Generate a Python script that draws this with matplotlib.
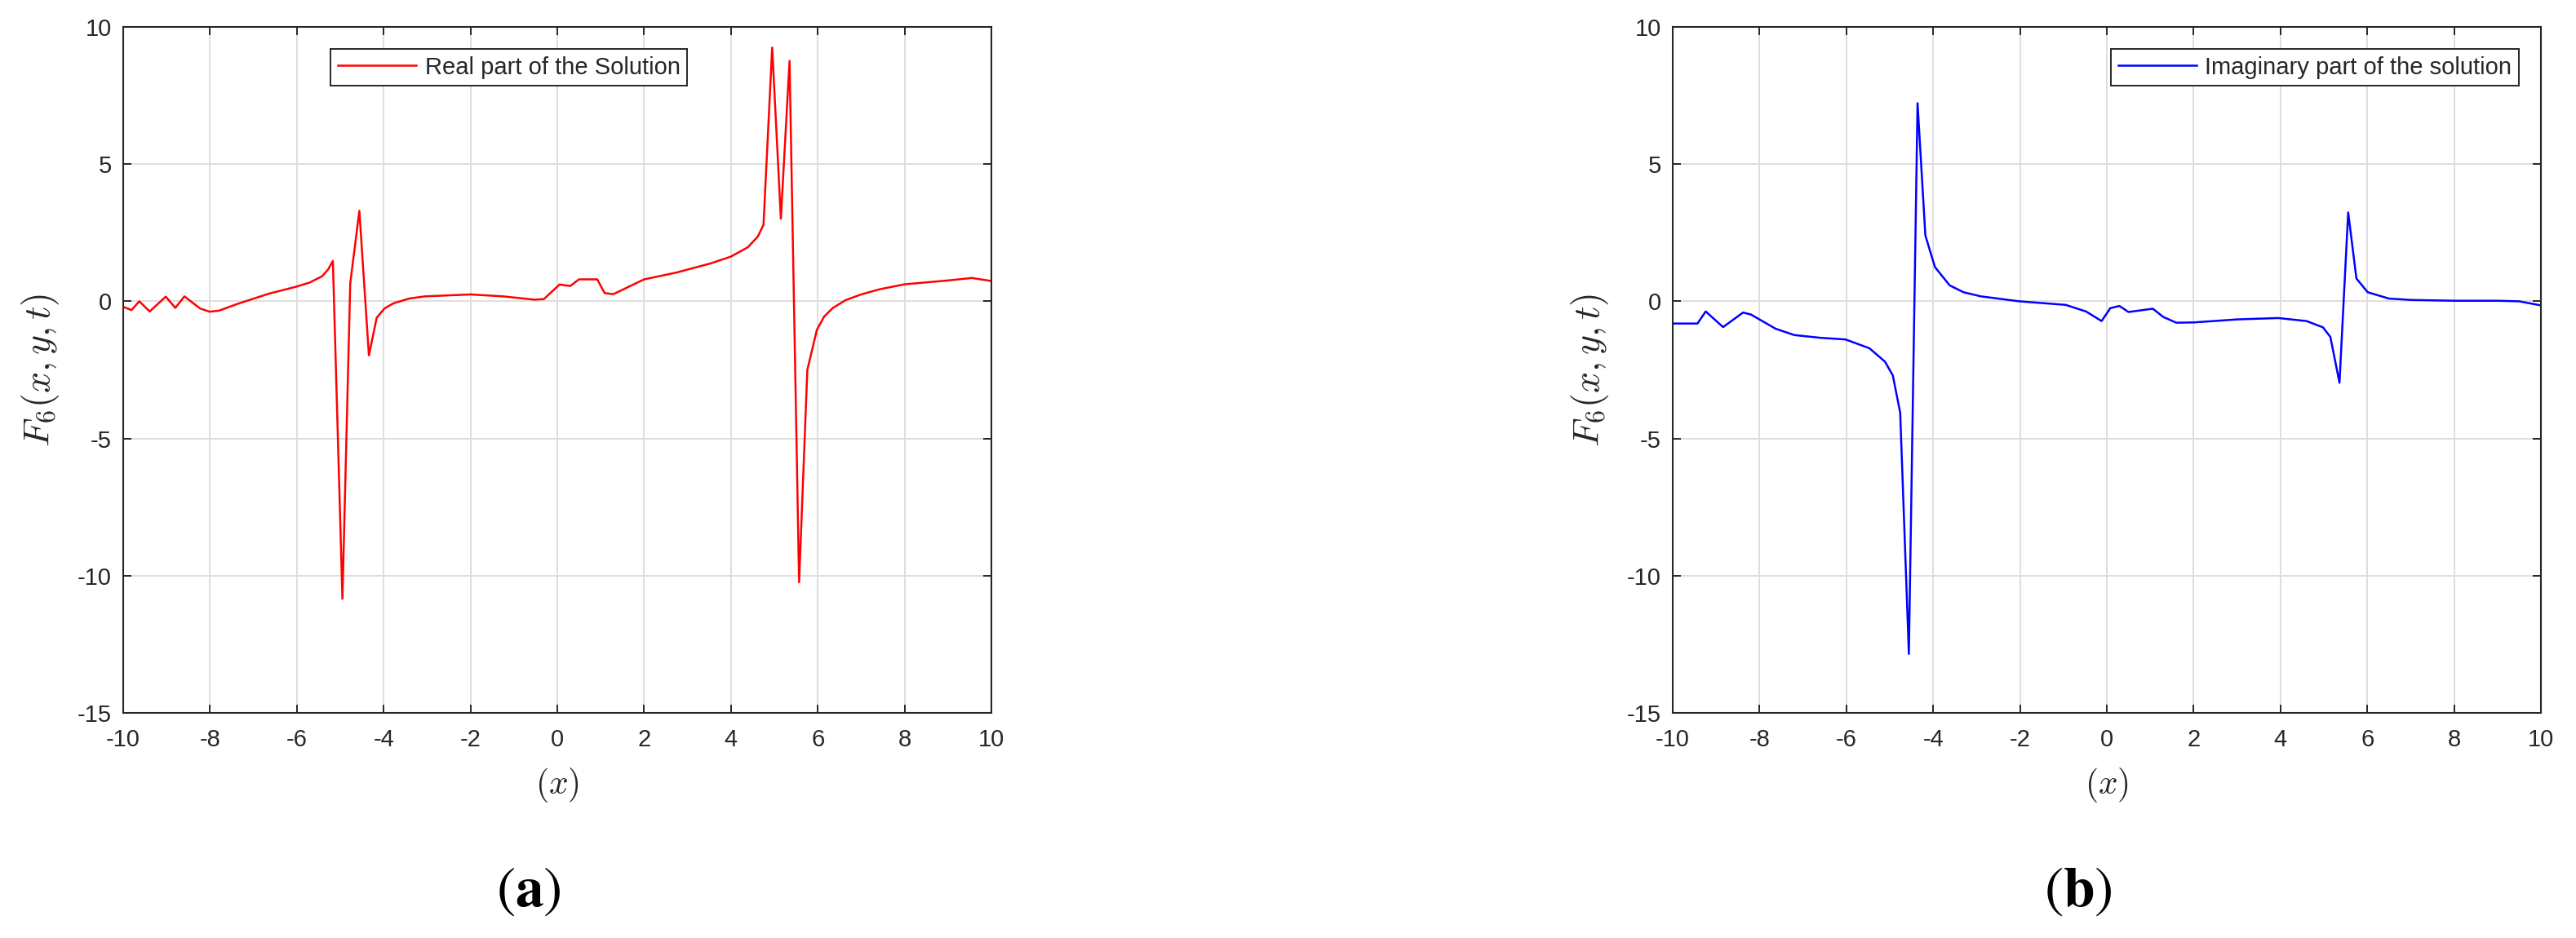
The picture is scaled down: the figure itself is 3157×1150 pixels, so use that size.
import matplotlib
matplotlib.use("Agg")
import matplotlib.pyplot as plt

# real part of the solution (panel a)
x_re = [-10.0, -9.81, -9.63, -9.39, -9.02, -8.80, -8.59, -8.23, -8.01, -7.79,
        -7.36, -6.64, -6.02, -5.71, -5.42, -5.28, -5.17, -4.95, -4.77, -4.56,
        -4.34, -4.16, -3.98, -3.77, -3.41, -3.05, -2.0, -1.25, -0.53, -0.31,
        0.05, 0.30, 0.50, 0.92, 1.09, 1.29, 2.0, 2.75, 3.53, 4.0,
        4.39, 4.62, 4.75, 4.95, 5.15, 5.35, 5.57, 5.76, 5.98, 6.15,
        6.35, 6.65, 7.0, 7.43, 8.0, 9.0, 9.55, 10.0]
y_re = [-0.20, -0.32, 0.0, -0.37, 0.17, -0.24, 0.18, -0.26, -0.38, -0.34,
        -0.09, 0.28, 0.53, 0.68, 0.91, 1.16, 1.47, -10.84, 0.65, 3.30,
        -1.97, -0.60, -0.26, -0.07, 0.10, 0.18, 0.25, 0.18, 0.06, 0.08,
        0.61, 0.56, 0.80, 0.80, 0.30, 0.26, 0.80, 1.05, 1.38, 1.63,
        1.97, 2.36, 2.79, 9.25, 3.01, 8.76, -10.24, -2.50, -1.04, -0.55,
        -0.24, 0.05, 0.25, 0.44, 0.62, 0.76, 0.85, 0.74]

# imaginary part of the solution (panel b)
x_im = [-10.0, -9.43, -9.24, -8.84, -8.38, -8.2, -7.63, -7.2, -6.6, -6.02,
        -5.47, -5.11, -4.93, -4.76, -4.56, -4.36, -4.18, -3.96, -3.62, -3.3,
        -2.9, -2.02, -0.95, -0.48, -0.12, 0.08, 0.29, 0.50, 1.06, 1.30,
        1.60, 2.0, 3.0, 3.95, 4.6, 4.98, 5.15, 5.36, 5.56, 5.75,
        6.01, 6.5, 7.0, 8.0, 9.0, 9.5, 10.0]
y_im = [-0.81, -0.81, -0.37, -0.94, -0.41, -0.48, -1.00, -1.23, -1.33, -1.39,
        -1.71, -2.20, -2.70, -4.06, -12.85, 7.22, 2.40, 1.25, 0.58, 0.33,
        0.18, 0.0, -0.13, -0.37, -0.72, -0.25, -0.17, -0.39, -0.27, -0.57,
        -0.78, -0.77, -0.66, -0.61, -0.72, -0.95, -1.30, -2.97, 3.24, 0.83,
        0.33, 0.10, 0.05, 0.02, 0.02, 0.0, -0.15]

x_ticks = list(range(-10, 11, 2))
y_ticks = list(range(-15, 11, 5))

plt.rcParams["font.family"] = ["Liberation Sans", "DejaVu Sans"]

AX_COL = "#262626"
GRID_COL = "#dedede"

fig = plt.figure(figsize=(31.57, 11.5), dpi=100)
ax_a = fig.add_axes([0.04783, 0.24, 0.33703, 0.7313])
ax_b = fig.add_axes([0.64935, 0.24, 0.33703, 0.7313])


def style_axes(ax):
    ax.set_xlim(-10, 10)
    ax.set_ylim(-15, 10)
    ax.set_xticks(x_ticks)
    ax.set_yticks(y_ticks)
    ax.set_xticklabels([str(t) for t in x_ticks])
    ax.set_yticklabels([str(t) for t in y_ticks])
    ax.grid(True, color=GRID_COL, linewidth=1.4)
    ax.set_axisbelow(True)
    for s in ax.spines.values():
        s.set_color(AX_COL)
        s.set_linewidth(1.5)
    ax.tick_params(direction="in", top=True, right=True, length=7.5, width=1.4,
                   color=AX_COL, labelcolor=AX_COL, labelsize=21)
    ax.tick_params(axis="x", pad=14)
    ax.tick_params(axis="y", pad=10)
    ax.set_xlabel(r"$(x)$", fontsize=30, math_fontfamily="cm", color=AX_COL)
    ax.set_ylabel(r"$F_6(x,y,t)$", fontsize=33, math_fontfamily="cm", color=AX_COL)
    ax.xaxis.set_label_coords(0.5, -0.105)
    ax.xaxis.label.set_va("center")
    ax.yaxis.set_label_coords(-0.095, 0.5)
    ax.yaxis.label.set_va("center")


ax_a.plot(x_re, y_re, color="#ff0000", linewidth=1.8, label="Real part of the Solution")
ax_b.plot(x_im, y_im, color="#0000ff", linewidth=1.8, label="Imaginary part of the solution")

for ax in (ax_a, ax_b):
    style_axes(ax)

leg_kw = dict(fontsize=21, frameon=True, fancybox=False, framealpha=1,
              edgecolor=AX_COL, borderaxespad=0, borderpad=0.3,
              handlelength=3.3, handletextpad=0.35)
leg_a = ax_a.legend(loc="upper left", bbox_to_anchor=(0.239, 0.968), **leg_kw)
leg_b = ax_b.legend(loc="upper right", bbox_to_anchor=(0.9746, 0.968), **leg_kw)
for leg in (leg_a, leg_b):
    leg.get_frame().set_linewidth(1.4)
    for t in leg.get_texts():
        t.set_color(AX_COL)

# panel captions
fig.text(0.04783 + 0.467 * 0.33703, 0.0496, r"$(\mathbf{a})$", fontsize=50,
         math_fontfamily="stix", ha="center", va="center")
fig.text(0.64935 + 0.467 * 0.33703, 0.0496, r"$(\mathbf{b})$", fontsize=50,
         math_fontfamily="stix", ha="center", va="center")

fig.savefig("out.png", dpi=100)
